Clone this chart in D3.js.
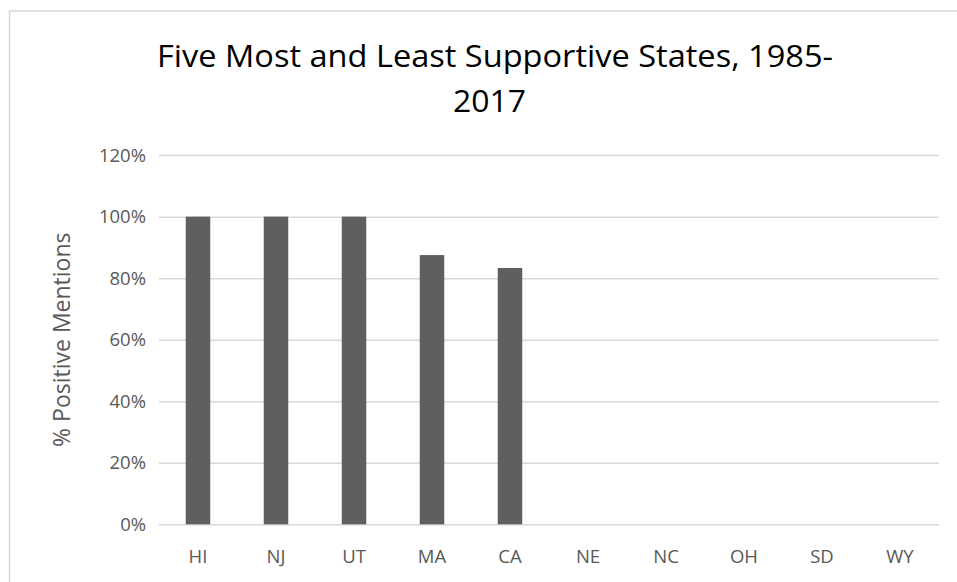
<!DOCTYPE html>
<html>
<head>
<meta charset="utf-8">
<script src="https://cdn.jsdelivr.net/npm/d3@7"></script>
<style>
  html, body { margin: 0; padding: 0; background: #fff; }
  svg { display: block; }
  text { font-family: "Open Sans", "Noto Sans", "Liberation Sans", sans-serif; }
</style>
</head>
<body>
<svg id="chart" width="957" height="582"></svg>
<script>
const categories = ["HI", "NJ", "UT", "MA", "CA", "NE", "NC", "OH", "SD", "WY"];
const values = [1.00, 1.00, 1.00, 0.875, 0.833, 0, 0, 0, 0, 0];
const yTicks = [0, 0.2, 0.4, 0.6, 0.8, 1.0, 1.2];
const titleLines = ["Five Most and Least Supportive States, 1985-", "2017"];
const yAxisTitle = "% Positive Mentions";

const svg = d3.select("#chart");
const W = 957, H = 582;
const plot = { left: 159, right: 939, top: 155.1, bottom: 524.3 };

svg.append("rect").attr("width", W).attr("height", H).attr("fill", "#fff");
// chart area border (extends past right/bottom edges)
svg.append("rect")
  .attr("x", 9.5).attr("y", 11).attr("width", W + 40).attr("height", H + 40)
  .attr("fill", "none").attr("stroke", "#d9d9d9").attr("stroke-width", 1.5);

const x = d3.scaleBand().domain(categories).range([plot.left, plot.right])
  .paddingInner(0.686).paddingOuter(0.343);
const y = d3.scaleLinear().domain([0, 1.2]).range([plot.bottom, plot.top]);

// gridlines
const yAxis = d3.axisLeft(y).tickValues(yTicks).tickFormat(d3.format(".0%"))
  .tickSize(-(plot.right - plot.left)).tickPadding(13);
const gy = svg.append("g").attr("transform", `translate(${plot.left},0)`).call(yAxis);
gy.select(".domain").remove();
gy.selectAll(".tick line").attr("stroke", "#d9d9d9").attr("stroke-width", 1.5);
gy.selectAll(".tick text").attr("fill", "#595959").attr("font-size", 18.5)
  .attr("font-family", "'Open Sans', sans-serif");

// bars
svg.append("g").selectAll("rect").data(categories).join("rect")
  .attr("x", d => x(d))
  .attr("width", x.bandwidth())
  .attr("y", (d, i) => y(values[i]))
  .attr("height", (d, i) => y(0) - y(values[i]))
  .attr("fill", "#5f5f5f");

// x axis
const xAxis = d3.axisBottom(x).tickSize(0).tickPadding(26);
const gx = svg.append("g").attr("transform", `translate(0,${plot.bottom})`).call(xAxis);
gx.select(".domain").remove();
gx.selectAll(".tick text").attr("fill", "#595959").attr("font-size", 18.5)
  .attr("font-family", "'Open Sans', sans-serif");

// title
svg.append("text").attr("fill", "#000").attr("font-size", 31.5)
  .attr("x", 157).attr("y", 67).attr("textLength", 676)
  .attr("lengthAdjust", "spacingAndGlyphs").text(titleLines[0]);
svg.append("text").attr("fill", "#000").attr("font-size", 31.5)
  .attr("x", 453).attr("y", 112).attr("textLength", 73)
  .attr("lengthAdjust", "spacingAndGlyphs").text(titleLines[1]);

// y axis title
svg.append("text")
  .attr("transform", `translate(70,${(plot.top + plot.bottom) / 2}) rotate(-90)`)
  .attr("text-anchor", "middle").attr("fill", "#595959").attr("font-size", 23)
  .text(yAxisTitle);
</script>
</body>
</html>
